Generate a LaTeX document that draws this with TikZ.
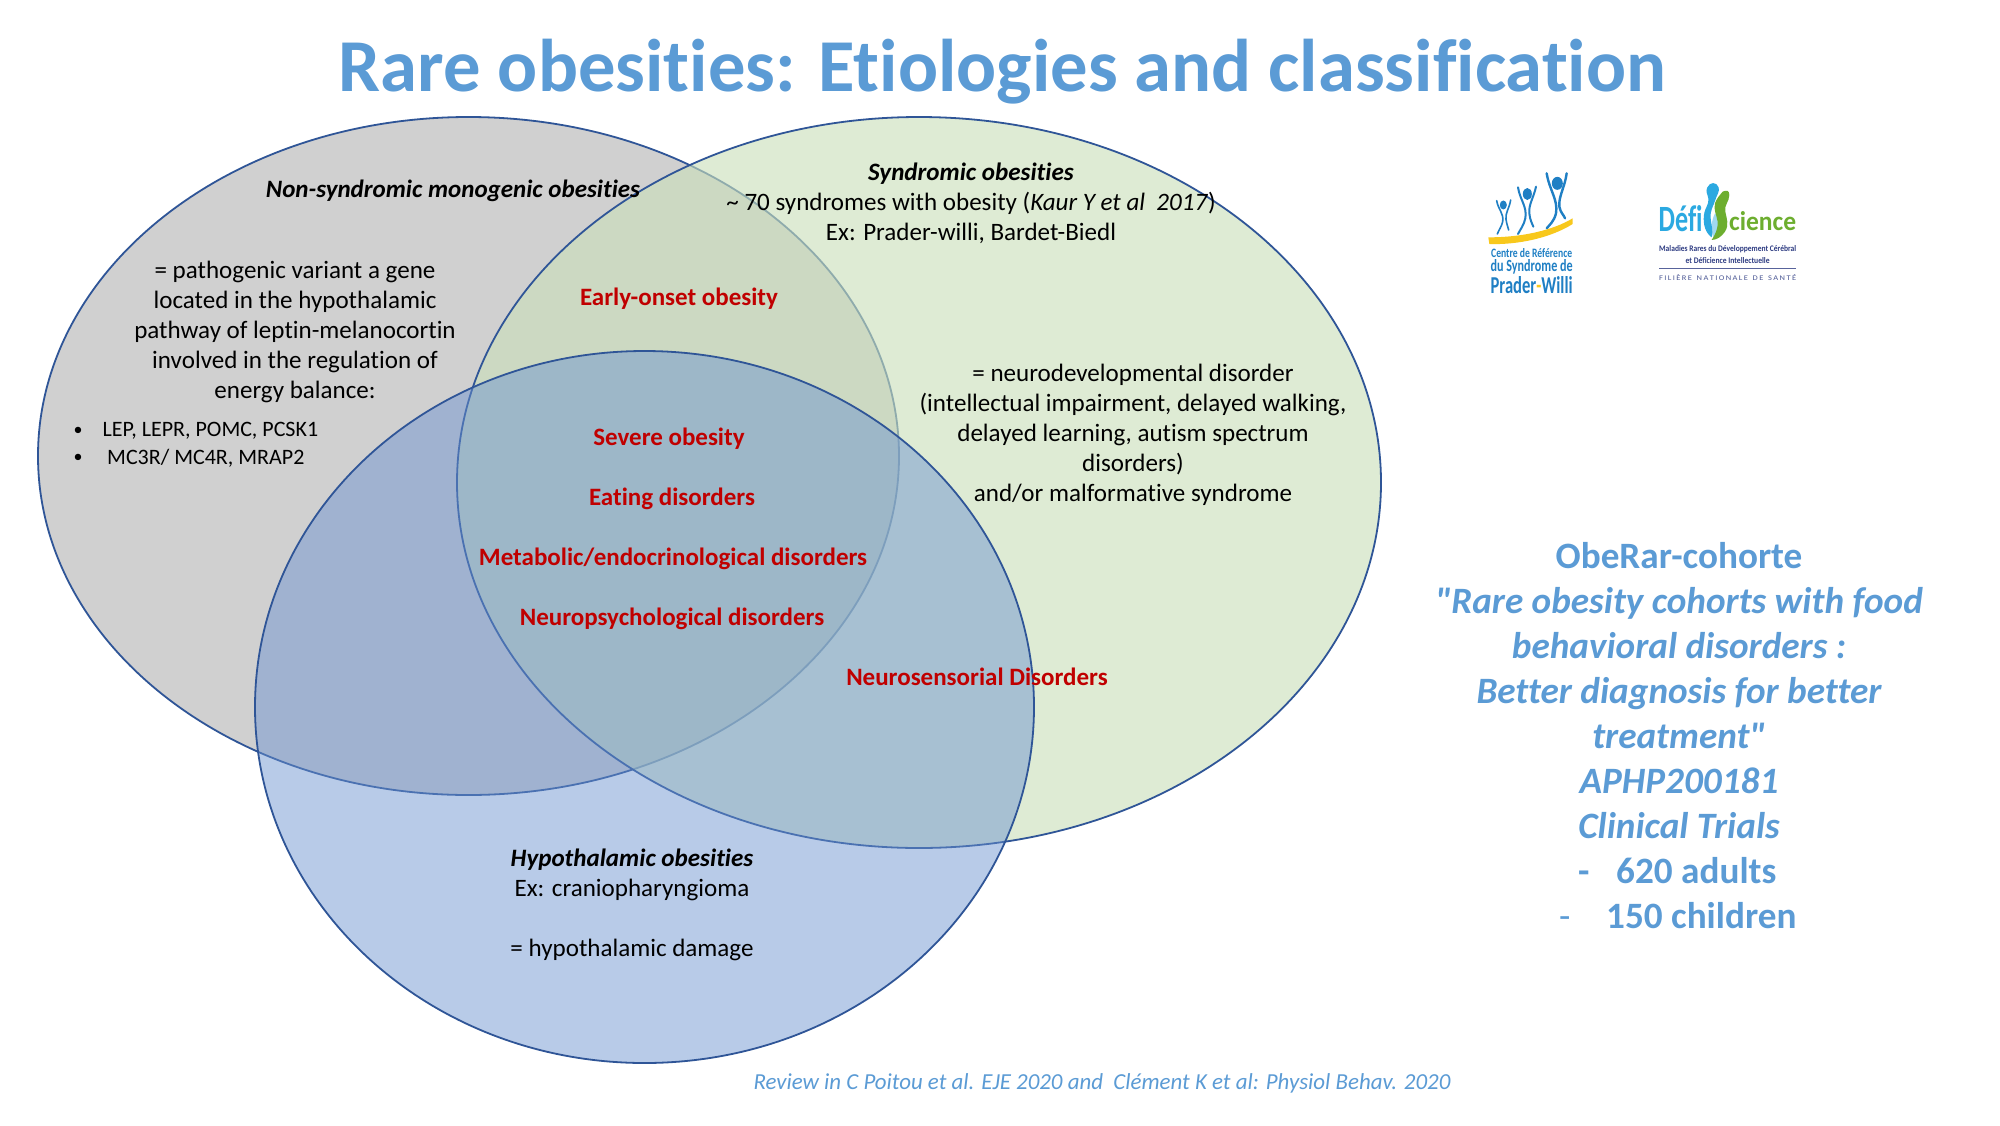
\documentclass[tikz,border=0pt]{standalone}
\usepackage{fontspec}
\usepackage{graphicx}
\setmainfont{Carlito}[Ligatures=TeXOff,RawFeature={-liga;-clig}]
\definecolor{ringline}{HTML}{2F5597}
\definecolor{grayfill}{HTML}{D0D0D0}
\definecolor{greenfill}{RGB}{202,224,186}
\definecolor{bluefill}{RGB}{106,145,208}
\definecolor{headblue}{HTML}{5B9BD5}
\definecolor{redtxt}{HTML}{C00000}
\definecolor{pwblue}{HTML}{1F7FC4}
\definecolor{pwyellow}{HTML}{F8C81C}
\definecolor{dcyan}{HTML}{2BA9E1}
\definecolor{dgreen}{HTML}{6DAE2F}
\definecolor{dnavy}{HTML}{2E3C82}
\tikzset{
  x=1pt,y=-1pt,
  ring/.style={draw=ringline,line width=1.8pt},
  body/.style={font=\fontsize{25.05}{30}\selectfont,align=center,inner sep=0pt,text=black},
  small/.style={font=\fontsize{22}{26}\selectfont,anchor=west,inner sep=0pt,text=black},
  redlab/.style={font=\fontsize{25}{30}\selectfont\bfseries,inner sep=0pt,text=redtxt},
  sidetxt/.style={font=\fontsize{37.2}{45}\selectfont\bfseries,inner sep=0pt,text=headblue,text height=26pt,text depth=8pt},
  sideit/.style={sidetxt,font=\fontsize{37.2}{45}\selectfont\bfseries\itshape},
  logotxt/.style={inner sep=0pt,font=\bfseries},
}
\begin{document}
\begin{tikzpicture}
\useasboundingbox (0,0) rectangle (2000,1125);
\fill[white] (0,0) rectangle (2000,1125);
% circles
\path[ring,fill=grayfill] (468.5,456) ellipse [x radius=430.5pt,y radius=339pt];
\path[ring,fill=greenfill,fill opacity=.62] (919,482.5) ellipse [x radius=462pt,y radius=365.5pt];
\path[ring,fill=bluefill,fill opacity=.47] (644.5,707) ellipse [x radius=389.5pt,y radius=356pt];
% title
\node[inner sep=0pt,text=headblue,font=\fontsize{74.65}{88}\selectfont\bfseries] (title) at (1002.5,72) {Rare obesities: Etiologies and classification};
% gray circle
\node[body,font=\fontsize{25}{30}\selectfont\bfseries\itshape] (nonsyn) at (453,191) {Non-syndromic monogenic obesities};
\node[body] (patho) at (295,331.5) {= pathogenic variant a gene\\located in the hypothalamic\\pathway of leptin-melanocortin\\involved in the regulation of\\energy balance:};
\node[inner sep=0pt,text=black,font=\fontsize{18}{20}\selectfont] (b1) at (78,431) {•};
\node[inner sep=0pt,text=black,font=\fontsize{18}{20}\selectfont] (b2) at (78,458) {•};
\node[small] (g1) at (102.5,431) {LEP, LEPR, POMC, PCSK1};
\node[small] (g2) at (107,458) {MC3R/ MC4R, MRAP2};
% green circle
\node[body] (syn) at (971,203) {\textbf{\textit{Syndromic obesities}}\\\textasciitilde{} 70 syndromes with obesity (\textit{Kaur Y et al\ \ 2017})\\Ex: Prader-willi, Bardet-Biedl};
\node[body] (neuro) at (1133,435) {= neurodevelopmental disorder\\(intellectual impairment, delayed walking,\\delayed learning, autism spectrum\\disorders)\\and/or malformative syndrome};
% red
\node[redlab] (early) at (679,299) {Early-onset obesity};
\node[redlab] (severe) at (669,438.5) {Severe obesity};
\node[redlab] (eating) at (672,498.5) {Eating disorders};
\node[redlab] (metab) at (673,558.5) {Metabolic/endocrinological disorders};
\node[redlab] (npsy) at (672,619) {Neuropsychological disorders};
\node[redlab] (nsens) at (977,676.5) {Neurosensorial Disorders};
% blue circle
\node[body] (hypo) at (632,904.5) {\textbf{\textit{Hypothalamic obesities}}\\Ex: craniopharyngioma\\[30pt]= hypothalamic damage};
% footer
\node[inner sep=0pt,text=headblue,font=\fontsize{22.9}{27}\selectfont\itshape] (foot) at (1102,1083) {Review in C Poitou et al. EJE 2020 and\ \ Clément K et al: Physiol Behav. 2020};
% right block
\node[sidetxt] (s1) at (1679,559) {ObeRar-cohorte};
\node[sideit] (s2) at (1679,604) {"Rare obesity cohorts with food};
\node[sideit] (s3) at (1679,649) {behavioral disorders :};
\node[sideit] (s4) at (1679,694) {Better diagnosis for better};
\node[sideit] (s5) at (1679,739) {treatment"};
\node[sideit] (s6) at (1679,784) {APHP200181};
\node[sideit] (s7) at (1679,829) {Clinical Trials};
\node[sidetxt,anchor=west] (d1) at (1578,874) {-};
\node[sidetxt,anchor=west] (s8) at (1616,874) {620 adults};
\node[sidetxt,anchor=west,font=\fontsize{37}{45}\selectfont] (d2) at (1559,919) {-};
\node[sidetxt,anchor=west] (s9) at (1606,919) {150 children};
% logo 1
\begin{scope}[shift={(1450,150)},x=0.3333pt,y=-0.3333pt]
  \fill[pwyellow] (115,262) .. controls (220,262) and (310,240) .. (368,205) -- (368,222) .. controls (300,265) and (200,285) .. (118,282) -- cycle;
  \fill[pwblue] (322,100) ellipse [x radius=5.5pt,y radius=6.5pt];
  \fill[pwblue] (232,132) ellipse [x radius=4.5pt,y radius=6pt];
  \fill[pwblue] (160,165) ellipse [x radius=3.5pt,y radius=4.5pt];
  \draw[pwblue,line width=2.4pt,line cap=round] (290,70) .. controls (298,120) and (325,150) .. (318,190) .. controls (312,215) and (298,225) .. (290,235);
  \draw[pwblue,line width=2.4pt,line cap=round] (350,70) .. controls (345,110) and (325,140) .. (328,170) .. controls (332,190) and (342,195) .. (345,205);
  \draw[pwblue,line width=2pt,line cap=round] (204,112) .. controls (210,150) and (232,170) .. (226,205) .. controls (222,225) and (210,240) .. (204,252);
  \draw[pwblue,line width=2pt,line cap=round] (258,110) .. controls (252,140) and (235,165) .. (238,190) .. controls (240,210) and (246,220) .. (250,230);
  \draw[pwblue,line width=1.6pt,line cap=round] (140,152) .. controls (145,180) and (162,190) .. (158,215) .. controls (155,230) and (146,240) .. (142,252);
  \draw[pwblue,line width=1.6pt,line cap=round] (182,150) .. controls (178,175) and (165,190) .. (168,208) .. controls (170,222) and (174,232) .. (176,240);
  \node[logotxt,text=pwblue] (pw1) at (245,309) {\resizebox{81pt}{9pt}{Centre de Référence}};
  \node[logotxt,text=pwblue] (pw2) at (245,352) {\resizebox{82pt}{12pt}{du Syndrome de}};
  \node[logotxt,text=pwblue] (pw3) at (245,405) {\resizebox{82pt}{17pt}{Prader{\color{pwyellow}-}Willi}};
  % logo 2
  \node[logotxt,text=dcyan] (df1) at (692,205) {\resizebox{44pt}{26pt}{Défi}};
  \node[logotxt,text=dgreen] (df2) at (938,212) {\resizebox{67pt}{19pt}{cience}};
  \fill[dcyan!45] (795,190) .. controls (812,205) and (812,235) .. (790,262) .. controls (780,240) and (785,210) .. cycle;
  \fill[dcyan] (772,112) .. controls (780,95) and (800,95) .. (806,112) .. controls (810,125) and (800,135) .. (796,150) .. controls (790,170) and (780,180) .. (782,205) .. controls (784,225) and (790,240) .. (785,262) .. controls (768,250) and (758,225) .. (762,195) .. controls (765,170) and (778,165) .. (775,145) .. controls (772,130) and (766,125) .. cycle;
  \fill[dgreen] (818,125) .. controls (830,120) and (838,120) .. (838,135) .. controls (838,155) and (822,165) .. (826,185) .. controls (830,205) and (838,225) .. (825,245) .. controls (815,260) and (800,270) .. (785,270) .. controls (795,255) and (805,235) .. (803,215) .. controls (800,195) and (790,180) .. (795,160) .. controls (800,145) and (810,135) .. cycle;
  \node[logotxt,text=dnavy] (df3) at (833,298) {\resizebox{137pt}{6pt}{Maladies Rares du Développement Cérébral}};
  \node[logotxt,text=dnavy] (df4) at (833,333) {\resizebox{84pt}{6pt}{et Déficience Intellectuelle}};
  \draw[dnavy!80,line width=0.8pt] (628,354) -- (1038,354);
  \node[inner sep=0pt,text=dnavy!85] (df5) at (833,382) {\resizebox{137pt}{6pt}{F\,I\,L\,I\,È\,R\,E\, \,N\,A\,T\,I\,O\,N\,A\,L\,E\, \,D\,E\, \,S\,A\,N\,T\,É}};
\end{scope}
\end{tikzpicture}
\end{document}
